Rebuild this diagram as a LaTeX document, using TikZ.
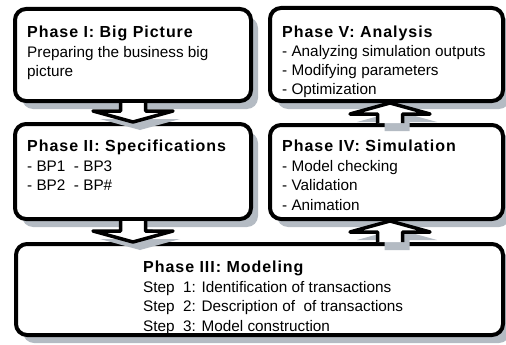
\documentclass[tikz,border=0pt]{standalone}
\usepackage{fontspec}
\setmainfont{Liberation Sans}
\newfontfamily\titlefont[LetterSpace=6]{Liberation Sans}
\usetikzlibrary{calc,shadows}
\definecolor{shadowgray}{RGB}{180,187,195}
\tikzset{
  phaseshadow/.style={drop shadow={shadow xshift=7pt,shadow yshift=-8pt,fill=shadowgray,opacity=1}},
  phasebox/.style={draw=black,line width=4pt,rounded corners=11pt,fill=white,phaseshadow},
  phasetext/.style={anchor=north west,align=left,inner sep=0pt,font=\fontsize{15.3}{19.5}\selectfont},
  arrowfill/.style={fill=white,phaseshadow},
  arrowline/.style={draw=black,line width=3.5pt,line join=round}
}
\newcommand\phasetitle[1]{{\titlefont\bfseries\fontsize{16}{19.5}\selectfont #1}}
% block arrow from #1 to #2 (vertical)
\newcommand\phasearrow[2]{%
  \path[arrowfill] let \p1=(#1),\p2=(#2),\n1={\y2+11*sign(\y1-\y2)} in
    (\x1-12.5pt,\y1) -- (\x1-12.5pt,\n1) -- (\x1-40pt,\n1) -- (\x1,\y2)
    -- (\x1+40pt,\n1) -- (\x1+12.5pt,\n1) -- (\x1+12.5pt,\y1) -- cycle;
  \draw[arrowline] let \p1=(#1),\p2=(#2),\n1={\y2+11*sign(\y1-\y2)} in
    (\x1-12.5pt,\y1) -- (\x1-12.5pt,\n1) -- (\x1-40pt,\n1) -- (\x1,\y2)
    -- (\x1+40pt,\n1) -- (\x1+12.5pt,\n1) -- (\x1+12.5pt,\y1);
}
\begin{document}
\begin{tikzpicture}[x=1pt,y=-1pt]
  \useasboundingbox (0,0) rectangle (506,345);
  % boxes
  \node[phasebox,minimum width=236pt,minimum height=92pt] (p1) at (133,55) {};
  \node[phasebox,minimum width=233pt,minimum height=93pt] (p5) at (386.5,54.5) {};
  \node[phasebox,minimum width=236pt,minimum height=95pt] (p2) at (133,171.5) {};
  \node[phasebox,minimum width=233pt,minimum height=94pt] (p4) at (386.5,172) {};
  \node[phasebox,minimum width=487pt,minimum height=91pt] (p3) at (259.5,289.5) {};
  % texts
  \node[phasetext] (t1) at ([shift={(14,19)}]p1.north west)
    {\phasetitle{Phase I: Big Picture}\\Preparing the business big\\picture};
  \node[phasetext,font=\fontsize{15.3}{19}\selectfont] (t5) at ([shift={(14,19.5)}]p5.north west)
    {\phasetitle{Phase V: Analysis}\\- Analyzing simulation outputs\\- Modifying parameters\\- Optimization};
  \node[phasetext] (t2) at ([shift={(14,18)}]p2.north west)
    {\phasetitle{Phase II: Specifications}\\- BP1\ \ - BP3\\- BP2\ \ - BP\#};
  \node[phasetext] (t4) at ([shift={(14,17)}]p4.north west)
    {\phasetitle{Phase IV: Simulation}\\- Model checking\\- Validation\\- Animation};
  \node[phasetext] (t3) at ([shift={(129,19)}]p3.north west)
    {\phasetitle{Phase III: Modeling}\\Step\ \ 1: Identification of transactions\\Step\ \ 2: Description of\ \ of transactions\\Step\ \ 3: Model construction};
  % arrows
  \coordinate (a3) at ([xshift=3.5pt]p4.south);
  \coordinate (a4) at ([xshift=3.5pt]p4.north);
  \phasearrow{p1.south}{p2.north}
  \phasearrow{p2.south}{p2.south |- p3.north}
  \phasearrow{a3 |- p3.north}{a3}
  \phasearrow{a4}{a4 |- p5.south}
\end{tikzpicture}
\end{document}
